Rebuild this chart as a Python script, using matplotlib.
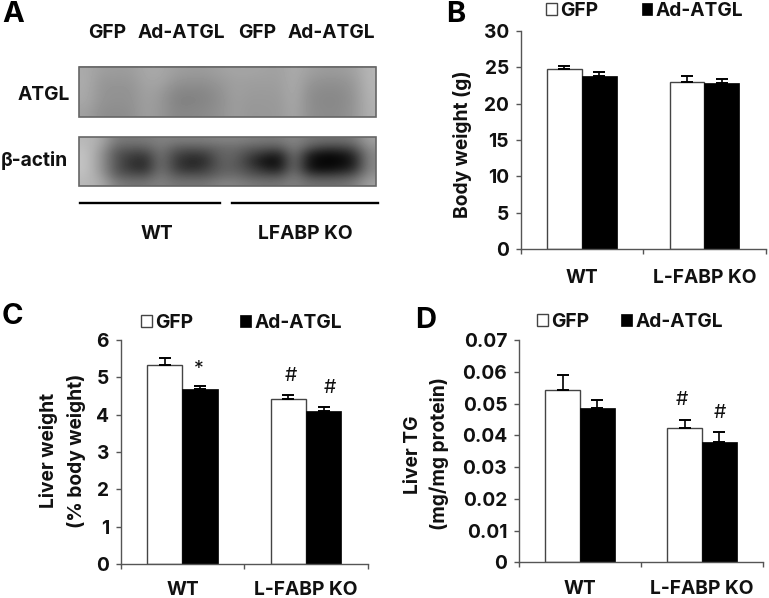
import numpy as np
import matplotlib
matplotlib.use("Agg")
import matplotlib.pyplot as plt
from matplotlib.patches import Patch, Rectangle

W, H = 769, 598
plt.rcParams['font.family'] = ['Inter', 'Liberation Sans', 'DejaVu Sans']
TXT = "#111111"
AXC = "#555555"
FW = "bold"
FS = 13.8

groups = ["WT", "L-FABP KO"]
series = ["GFP", "Ad-ATGL"]

body_gfp = [24.75, 22.9]
body_ad = [23.8, 22.8]
body_gfp_err = [0.4, 0.83]
body_ad_err = [0.5, 0.6]
body_ticks = [0, 5, 10, 15, 20, 25, 30]

liver_gfp = [5.34, 4.42]
liver_ad = [4.69, 4.09]
liver_gfp_err = [0.17, 0.12]
liver_ad_err = [0.08, 0.11]
liver_ticks = [0, 1, 2, 3, 4, 5, 6]

tg_gfp = [0.0541, 0.0422]
tg_ad = [0.0485, 0.0379]
tg_gfp_err = [0.0049, 0.0025]
tg_ad_err = [0.0026, 0.003]
tg_ticks = [0, 0.01, 0.02, 0.03, 0.04, 0.05, 0.06, 0.07]

# blot grey levels, coarse grid
atgl_blot = [
    [170,158,156,156,168,168,158,155,155,160,165,165,162,160,172,160,155,155,160,182],
    [172,150,150,150,165,165,148,145,145,152,160,158,158,158,172,150,145,145,152,182],
    [170,148,146,146,162,155,135,133,135,145,160,155,155,155,172,142,138,138,148,180],
    [168,146,145,145,160,152,130,130,133,143,158,152,153,153,170,140,136,136,146,178],
    [160,142,140,142,160,150,135,135,138,145,158,150,152,152,168,142,138,138,148,176],
]
actin_blot = [
    [185,170,120,120,120,130,125,125,125,130,130,125,120,120,135,115,110,110,115,160],
    [190,160,100,95,95,125,95,90,95,105,110,95,90,85,130,85,65,65,80,145],
    [195,150,85,65,60,120,70,55,60,100,100,70,45,30,125,30,10,15,40,135],
    [195,150,85,50,40,120,60,35,45,95,95,55,15,10,120,15,5,5,25,135],
    [195,150,85,55,45,120,65,45,60,95,95,70,40,25,120,20,10,20,40,135],
    [190,160,95,85,80,125,90,85,85,105,110,90,80,75,125,70,65,70,85,145],
    [185,170,125,115,115,130,115,115,115,130,130,120,115,115,130,110,110,110,120,160],
]

fig = plt.figure(figsize=(W/100, H/100), dpi=100)
bg = fig.add_axes([0, 0, 1, 1])
bg.set_xlim(0, W)
bg.set_ylim(H, 0)
bg.axis("off")


def bar_panel(x0, x1, ytop, y0, gfp, ad, gfp_err, ad_err, ticks, ticklabels, xpad):
    ax = fig.add_axes([x0/W, 1-y0/H, (x1-x0)/W, (y0-ytop)/H])
    pos = np.arange(2) + 0.5
    w = 0.285
    ax.bar(pos-w/2, gfp, w, color="white", edgecolor="#444444", linewidth=1,
           yerr=[[0, 0], gfp_err], ecolor="black", error_kw=dict(lw=1.2, capsize=4, capthick=1.4))
    ax.bar(pos+w/2, ad, w, color="black", edgecolor="black", linewidth=0.5,
           yerr=[[0, 0], ad_err], ecolor="black", error_kw=dict(lw=1.2, capsize=4, capthick=1.4))
    ax.set_xlim(0, 2)
    ax.set_ylim(ticks[0], ticks[-1])
    ax.spines[["top", "right"]].set_visible(False)
    ax.spines[["left", "bottom"]].set_color(AXC)
    ax.spines[["left", "bottom"]].set_linewidth(1)
    ax.patch.set_alpha(0)
    ax.set_xticks([0, 1, 2])
    ax.set_xticklabels([])
    ax.set_xticks(pos, minor=True)
    ax.set_xticklabels(groups, minor=True, fontsize=FS, fontweight=FW, color=TXT)
    ax.tick_params(axis="x", which="major", length=3.5, width=1, color=AXC)
    ax.tick_params(axis="x", which="minor", length=0, pad=xpad)
    ax.set_yticks(ticks)
    ax.set_yticklabels(ticklabels, fontsize=FS, fontweight=FW, color=TXT)
    ax.tick_params(axis="y", length=3.5, width=1, color=AXC, pad=5)
    return ax


def add_legend(ax, x, y, spacing):
    handles = [Patch(facecolor="white", edgecolor="#444444", linewidth=1),
               Patch(facecolor="black", edgecolor="black", linewidth=0.5)]
    ax.legend(handles, series, ncol=2, frameon=False, loc="center left",
              bbox_to_anchor=(x, y), bbox_transform=bg.transData,
              borderpad=0, borderaxespad=0, handlelength=0.55, handleheight=0.6,
              handletextpad=0.2, columnspacing=spacing,
              prop=dict(size=FS, weight=FW), labelcolor=TXT)


ax_b = bar_panel(520.7, 765.7, 30.7, 249.3, body_gfp, body_ad, body_gfp_err, body_ad_err,
                 body_ticks, [str(t) for t in body_ticks], 14.5)
add_legend(ax_b, 546, 11, 2.25)

ax_c = bar_panel(120.7, 367.7, 340, 564, liver_gfp, liver_ad, liver_gfp_err, liver_ad_err,
                 liver_ticks, [str(t) for t in liver_ticks], 12)
add_legend(ax_c, 141, 323, 2.45)
ax_c.text(0.5+0.285/2-0.01, liver_ad[0]+liver_ad_err[0]+0.2, "*", fontsize=14, ha="center", va="bottom", color=TXT)
ax_c.text(1.5-0.285/2+0.024, liver_gfp[1]+liver_gfp_err[1]+0.25, "#", fontsize=14, fontweight="normal", ha="center", va="bottom", color=TXT)
ax_c.text(1.5+0.285/2+0.05, liver_ad[1]+liver_ad_err[1]+0.28, "#", fontsize=14, fontweight="normal", ha="center", va="bottom", color=TXT)

ax_d = bar_panel(519, 763, 340, 562.3, tg_gfp, tg_ad, tg_gfp_err, tg_ad_err,
                 tg_ticks, ["0"] + [f"{t:.2f}" for t in tg_ticks[1:]], 12.5)
add_legend(ax_d, 537, 322, 1.65)
ax_d.text(1.5-0.285/2-0.025, tg_gfp[1]+tg_gfp_err[1]+0.0035, "#", fontsize=14, fontweight="normal", ha="center", va="bottom", color=TXT)
ax_d.text(1.5+0.285/2, tg_ad[1]+tg_ad_err[1]+0.0032, "#", fontsize=14, fontweight="normal", ha="center", va="bottom", color=TXT)

# axis titles
for x, y, s in [(463, 144, "Body weight (g)"), (49, 450, "Liver weight"), (76, 451, "(% body weight)"),
                (413, 455, "Liver TG"), (439, 454, "(mg/mg protein)")]:
    bg.text(x, y, s, rotation=90, ha="center", va="center", fontsize=FS, fontweight=FW, color=TXT)

# panel A blots
for grid, top, bottom in [(atgl_blot, 66.5, 117), (actin_blot, 137, 186)]:
    bg.imshow(np.array(grid), cmap="gray", vmin=0, vmax=255, interpolation="bicubic",
              extent=(79, 376, bottom, top), aspect="auto", zorder=1)
    bg.add_patch(Rectangle((79, top), 297, bottom-top, fill=False, edgecolor="#666666", linewidth=1.2, zorder=2))
bg.set_xlim(0, W)
bg.set_ylim(H, 0)

bg.plot([80, 220], [203, 203], color="black", lw=1.7)
bg.plot([232, 378], [203, 203], color="black", lw=1.7)

for x, s in [(107, "GFP"), (181, "Ad-ATGL"), (257, "GFP"), (331, "Ad-ATGL")]:
    bg.text(x, 33, s, ha="center", va="center", fontsize=FS, fontweight=FW, color=TXT)
bg.text(70, 95, "ATGL", ha="right", va="center", fontsize=FS, fontweight=FW, color=TXT)
bg.text(68, 160, "β-actin", ha="right", va="center", fontsize=FS, fontweight=FW, color=TXT)
bg.text(157, 234, "WT", ha="center", va="center", fontsize=FS, fontweight=FW, color=TXT)
bg.text(305, 234, "LFABP KO", ha="center", va="center", fontsize=FS, fontweight=FW, color=TXT)

for x, y, s in [(2, 15, "A"), (446, 15, "B"), (2, 317, "C"), (415, 321, "D")]:
    bg.text(x, y, s, ha="left", va="center", fontsize=21, fontweight="bold", color="black")

fig.savefig("out.png", dpi=100)
